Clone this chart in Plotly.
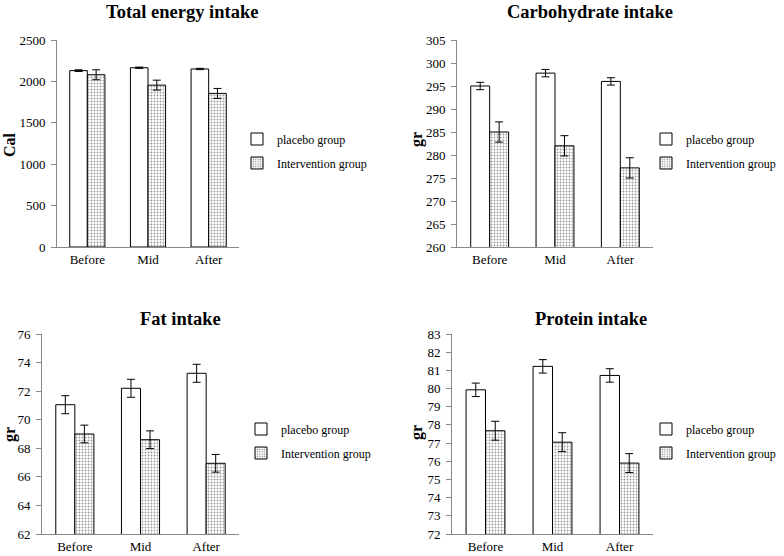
import plotly.graph_objects as go

categories = ["Before", "Mid", "After"]
series_names = ["placebo group", "Intervention group"]

titles = ["Total energy intake", "Carbohydrate intake", "Fat intake", "Protein intake"]
ytitles = ["Cal", "gr", "gr", "gr"]

energy_placebo = [2130, 2165, 2150]
energy_placebo_err = [10, 8, 8]
energy_interv = [2080, 1955, 1855]
energy_interv_err = [60, 60, 60]

carb_placebo = [295.0, 297.8, 296.0]
carb_placebo_err = [0.8, 0.8, 0.8]
carb_interv = [285.0, 282.0, 277.2]
carb_interv_err = [2.2, 2.2, 2.2]

fat_placebo = [71.05, 72.2, 73.25]
fat_placebo_err = [0.63, 0.63, 0.63]
fat_interv = [69.0, 68.6, 66.95]
fat_interv_err = [0.62, 0.62, 0.62]

prot_placebo = [79.93, 81.22, 80.72]
prot_placebo_err = [0.37, 0.37, 0.37]
prot_interv = [77.68, 77.05, 75.9]
prot_interv_err = [0.52, 0.52, 0.52]

yranges = [[0, 2500], [260, 305], [62, 76], [72, 83]]
ydticks = [500, 5, 2, 1]

panels = [
    (energy_placebo, energy_placebo_err, energy_interv, energy_interv_err),
    (carb_placebo, carb_placebo_err, carb_interv, carb_interv_err),
    (fat_placebo, fat_placebo_err, fat_interv, fat_interv_err),
    (prot_placebo, prot_placebo_err, prot_interv, prot_interv_err),
]

W, H = 784, 556


def fx(px):
    return px / W


def fy(py):
    return 1 - py / H


# pixel layout: (x0, x1, ytop, ybottom)
boxes = [(57, 239, 40, 247), (457, 653, 40, 247), (42, 239, 334, 534), (452, 653, 334, 534)]
title_pos = [(182, 12), (590, 12), (180, 319), (591, 319)]
ytitle_pos = [(10, 145), (417, 140), (10, 435), (417, 433)]
legend_pos = [(237, 151), (646, 151), (241, 441), (646, 441)]

FONT = "Liberation Serif"
fig = go.Figure()
layout = dict(width=W, height=H, margin=dict(l=0, r=0, t=0, b=0, autoexpand=False),
              paper_bgcolor="white", plot_bgcolor="white", showlegend=True,
              font=dict(family=FONT, size=12, color="black"), barmode="group",
              bargap=0.42, bargroupgap=0)
annotations = []
for i, (p, pe, iv, ive) in enumerate(panels):
    n = i + 1
    xa = "x" if n == 1 else f"x{n}"
    ya = "y" if n == 1 else f"y{n}"
    lg = "legend" if n == 1 else f"legend{n}"
    fig.add_trace(go.Bar(x=categories, y=p, name=series_names[0], xaxis=xa, yaxis=ya,
                         legend=lg, legendgroup=f"a{n}",
                         marker=dict(color="white", line=dict(color="black", width=1)),
                         error_y=dict(type="data", array=pe, color="black", thickness=1, width=4)))
    fig.add_trace(go.Bar(x=categories, y=iv, name=series_names[1], xaxis=xa, yaxis=ya,
                         legend=lg, legendgroup=f"b{n}",
                         marker=dict(color="white", line=dict(color="black", width=1),
                                     pattern=dict(shape=".", size=3, solidity=0.3,
                                                  fgcolor="#333333", bgcolor="white")),
                         error_y=dict(type="data", array=ive, color="black", thickness=1, width=4)))
    x0, x1, yt, yb = boxes[i]
    key_x = "xaxis" if n == 1 else f"xaxis{n}"
    key_y = "yaxis" if n == 1 else f"yaxis{n}"
    layout[key_x] = dict(domain=[fx(x0), fx(x1)], anchor=ya, showline=True, linecolor="#888888",
                         linewidth=1, ticks="", tickfont=dict(family=FONT, size=13),
                         showgrid=False, zeroline=False, automargin=False)
    layout[key_y] = dict(domain=[fy(yb), fy(yt)], anchor=xa, range=yranges[i],
                         dtick=ydticks[i], showline=True, linecolor="#888888", linewidth=1,
                         ticks="outside", ticklen=5, tickcolor="#888888", ticklabelstandoff=3,
                         tickfont=dict(family=FONT, size=13), showgrid=False, zeroline=False,
                         automargin=False)
    lx, ly = legend_pos[i]
    layout[lg] = dict(x=fx(lx), y=fy(ly), xanchor="left", yanchor="middle",
                      font=dict(family=FONT, size=12), bgcolor="rgba(0,0,0,0)",
                      traceorder="grouped", tracegroupgap=5, itemwidth=30)
    tx, ty = title_pos[i]
    annotations.append(dict(text=f"<b>{titles[i]}</b>", x=fx(tx), y=fy(ty), xref="paper",
                            yref="paper", showarrow=False, xanchor="center", yanchor="middle",
                            font=dict(family=FONT, size=18.5)))
    yx, yy = ytitle_pos[i]
    annotations.append(dict(text=f"<b>{ytitles[i]}</b>", x=fx(yx), y=fy(yy), xref="paper",
                            yref="paper", showarrow=False, xanchor="center", yanchor="middle",
                            textangle=-90, font=dict(family=FONT, size=16)))
layout["annotations"] = annotations
fig.update_layout(**layout)
fig.write_html("out.html", config={"displayModeBar": False},
               post_script="document.body.style.margin='0px';document.body.style.overflow='hidden';")
